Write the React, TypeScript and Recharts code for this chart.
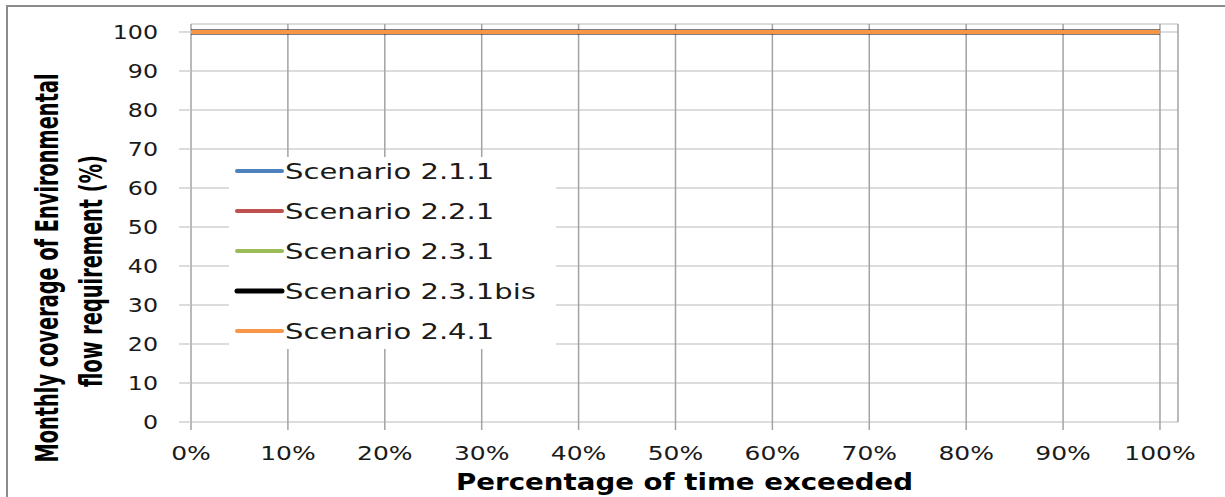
import React from 'react'
import { LineChart, Line, XAxis, YAxis, CartesianGrid, Legend, Label } from 'recharts'

// percentage of time exceeded (x) and monthly coverage (%) per scenario
const exceedance = [0, 10, 20, 30, 40, 50, 60, 70, 80, 90, 100]
const scenario211 = [100, 100, 100, 100, 100, 100, 100, 100, 100, 100, 100]
const scenario221 = [100, 100, 100, 100, 100, 100, 100, 100, 100, 100, 100]
const scenario231 = [100, 100, 100, 100, 100, 100, 100, 100, 100, 100, 100]
const scenario231bis = [100, 100, 100, 100, 100, 100, 100, 100, 100, 100, 100]
const scenario241 = [100, 100, 100, 100, 100, 100, 100, 100, 100, 100, 100]

const xTicks = [0, 10, 20, 30, 40, 50, 60, 70, 80, 90, 100]
const yTicks = [0, 10, 20, 30, 40, 50, 60, 70, 80, 90, 100]

const seriesDefs = [
  { key: 's211', name: 'Scenario 2.1.1', values: scenario211, color: '#4f81bd', width: 4 },
  { key: 's221', name: 'Scenario 2.2.1', values: scenario221, color: '#c0504d', width: 4 },
  { key: 's231', name: 'Scenario 2.3.1', values: scenario231, color: '#9bbb59', width: 4 },
  { key: 's231bis', name: 'Scenario 2.3.1bis', values: scenario231bis, color: '#000000', width: 5 },
  { key: 's241', name: 'Scenario 2.4.1', values: scenario241, color: '#f79646', width: 4 },
]

const data = exceedance.map((x, i) => {
  const row: Record<string, number> = { x }
  seriesDefs.forEach((s) => {
    row[s.key] = s.values[i]
  })
  return row
})

const FONT = "'DejaVu Sans', Verdana, sans-serif"
const NARROW = "'DejaVu Sans Condensed', 'DejaVu Sans', sans-serif"

const XTick = ({ x, y, payload }: any) => (
  <g transform={`translate(${x},${y})`}>
    <text transform="scale(1.25,1)" dy={30} textAnchor="middle" fontFamily={FONT} fontSize={20} fill="#1a1a1a">
      {`${payload.value}%`}
    </text>
  </g>
)

const YTick = ({ x, y, payload }: any) => (
  <g transform={`translate(${x - 21},${y})`}>
    <text transform="scale(1.25,1)" dy={7} textAnchor="end" fontFamily={FONT} fontSize={19} fill="#1a1a1a">
      {payload.value}
    </text>
  </g>
)

const XTitle = ({ viewBox }: any) => (
  <text
    x={viewBox.x + viewBox.width / 2}
    y={viewBox.y + 68}
    textAnchor="middle"
    fontFamily={FONT}
    fontWeight="bold"
    fontSize={23}
    textLength={457}
    lengthAdjust="spacingAndGlyphs"
    fill="#000"
  >
    Percentage of time exceeded
  </text>
)

const YTitle = () => (
  <g>
    <g transform="translate(58,268) rotate(-90) scale(1,1.5)">
      <text textAnchor="middle" fontFamily={NARROW} fontWeight="bold" fontSize={21.5} fill="#000">
        Monthly coverage of Environmental
      </text>
    </g>
    <g transform="translate(102,271) rotate(-90) scale(1,1.5)">
      <text textAnchor="middle" fontFamily={NARROW} fontWeight="bold" fontSize={21.5} fill="#000">
        flow requirement  (%)
      </text>
    </g>
  </g>
)

const LegendBox = ({ payload }: any) => (
  <svg width={327} height={192}>
    {(payload || []).map((entry: any, i: number) => {
      const def = seriesDefs.find((s) => s.name === entry.value)
      const cy = 14 + i * 40
      return (
        <g key={entry.value}>
          <line x1={8} x2={53} y1={cy} y2={cy} stroke={entry.color} strokeWidth={def ? def.width : 4} strokeLinecap="round" />
          <g transform={`translate(56,${cy + 8})`}>
            <text transform="scale(1.32,1)" fontFamily={FONT} fontSize={22} fill="#1a1a1a">
              {entry.value}
            </text>
          </g>
        </g>
      )
    })}
  </svg>
)

export default function App() {
  return (
    <div style={{ position: 'absolute', left: 0, top: 0, width: 1225, height: 497, background: '#fff', overflow: 'hidden' }}>
      <div
        style={{
          position: 'absolute',
          left: 6,
          top: 5,
          width: 1225,
          height: 497,
          borderLeft: '2px solid #8c8c8c',
          borderTop: '2px solid #8c8c8c',
        }}
      />
      <div style={{ position: 'absolute', left: 0, top: 0 }}>
        <LineChart width={1225} height={497} data={data} margin={{ top: 24, right: 47, bottom: 0, left: 0 }}>
          <CartesianGrid vertical={false} stroke="#d0d0d0" strokeWidth={1.5} />
          <CartesianGrid horizontal={false} stroke="#a3a3a3" strokeWidth={1.5} />
          <XAxis
            dataKey="x"
            type="number"
            domain={[0, 101.86]}
            ticks={xTicks}
            height={75}
            axisLine={false}
            tickLine={{ stroke: '#a3a3a3', strokeWidth: 1.5 }}
            tickSize={8}
            tickMargin={0}
            tick={<XTick />}
            interval={0}
          >
            <Label content={<XTitle />} />
          </XAxis>
          <YAxis
            type="number"
            domain={[0, 102.05]}
            ticks={yTicks}
            width={191}
            axisLine={false}
            tickLine={{ stroke: '#d0d0d0', strokeWidth: 1.5 }}
            tickSize={12}
            tickMargin={0}
            tick={<YTick />}
            interval={0}
          >
            <Label content={<YTitle />} />
          </YAxis>
          <Legend
            layout="vertical"
            align="center"
            verticalAlign="middle"
            content={<LegendBox />}
            wrapperStyle={{ position: 'absolute', left: 229, top: 157, width: 327, height: 192, background: '#fff' }}
          />
          {seriesDefs.map((s) => (
            <Line
              key={s.key}
              type="linear"
              dataKey={s.key}
              name={s.name}
              stroke={s.color}
              strokeWidth={s.width}
              dot={false}
              activeDot={false}
              isAnimationActive={false}
            />
          ))}
        </LineChart>
      </div>
    </div>
  )
}
